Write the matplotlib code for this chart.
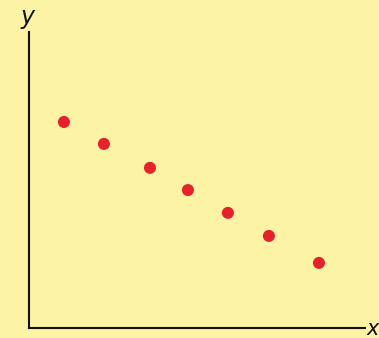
import matplotlib
matplotlib.use("Agg")
import matplotlib.pyplot as plt

x_values = [1.04, 2.23, 3.6, 4.73, 5.92, 7.14, 8.63]
y_values = [6.96, 6.22, 5.41, 4.66, 3.89, 3.11, 2.2]

W, H = 379, 338
bg = "#FDF3A5"
fig = plt.figure(figsize=(W/100, H/100), dpi=100, facecolor=bg)
ax = fig.add_axes([29/W, 10/H, (365-29)/W, (328-32)/H])
ax.set_facecolor(bg)
ax.set_xlim(0, 10)
ax.set_ylim(0, 10)
ax.scatter(x_values, y_values, s=75, color="#E8202A", edgecolors="none", zorder=3)
for s in ["top", "right"]:
    ax.spines[s].set_visible(False)
for s in ["left", "bottom"]:
    ax.spines[s].set_color("#111111")
    ax.spines[s].set_linewidth(1.5)
ax.set_xticks([])
ax.set_yticks([])
fig.text(28/W, 1 - 17/H, "y", fontsize=17, style="italic", ha="center", va="center", color="#111111")
fig.text(373/W, 1 - 329/H, "x", fontsize=15, style="italic", ha="center", va="center", color="#111111")
fig.savefig("out.png", dpi=100, facecolor=bg)
